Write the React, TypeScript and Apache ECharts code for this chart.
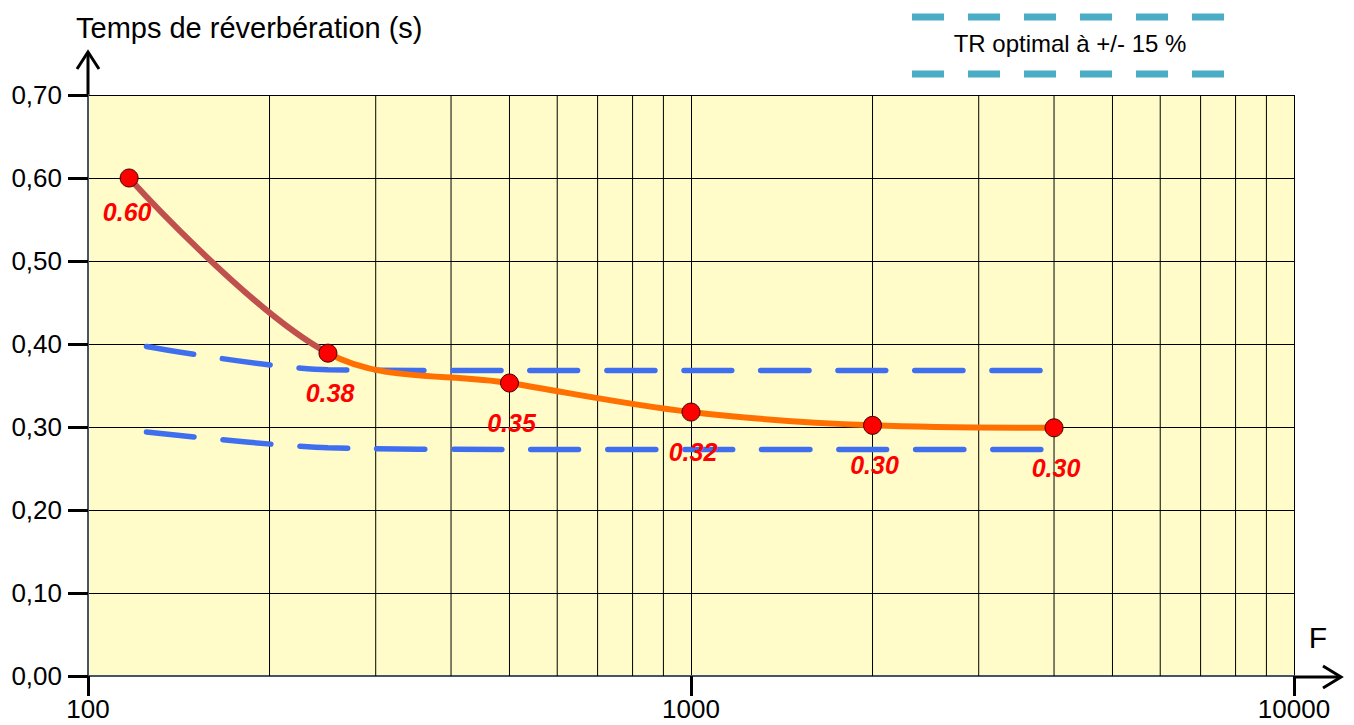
import React, { useEffect, useRef } from "react";
import * as echarts from "echarts";

const FONT = "'Liberation Sans', Arial, sans-serif";

// Measured reverberation time (s) per frequency (Hz)
const freqs = [117, 250, 500, 1000, 2000, 4000];
const trValues = [0.6, 0.389, 0.353, 0.318, 0.302, 0.299];
const trLabels = ["0.60", "0.38", "0.35", "0.32", "0.30", "0.30"];

// Optimal TR +/- 15 % band
const limitFreqs = [125, 250, 500, 1000, 2000, 4000];
const upperLimit = [0.397, 0.369, 0.368, 0.368, 0.368, 0.368];
const lowerLimit = [0.294, 0.275, 0.273, 0.273, 0.273, 0.273];

// Minor vertical grid lines of the log scale
const minorFreqs = [200, 300, 400, 500, 600, 700, 800, 900, 2000, 3000, 4000, 5000, 6000, 7000, 8000, 9000];

const yTickFormat = (v: number) => v.toFixed(2).replace(".", ",");

export default function App() {
  const ref = useRef<HTMLDivElement>(null);

  useEffect(() => {
    if (!ref.current) return;
    const chart = echarts.init(ref.current, null, { renderer: "svg" });

    // colour switch (brown -> orange) at the second measured point, as a fraction of the line's log-x span
    const lg = Math.log10;
    const split = (lg(freqs[1]) - lg(freqs[0])) / (lg(freqs[freqs.length - 1]) - lg(freqs[0]));
    const lineGradient = new echarts.graphic.LinearGradient(0, 0, 1, 0, [
      { offset: 0, color: "#C0504D" },
      { offset: split, color: "#C0504D" },
      { offset: split, color: "#FF7000" },
      { offset: 1, color: "#FF7000" },
    ]);

    const minorGridData: any[] = [];
    minorFreqs.forEach((f) => {
      minorGridData.push([f, 0], [f, 0.7], "-");
    });

    const option: any = {
      animation: false,
      backgroundColor: "#ffffff",
      grid: {
        left: 88,
        right: 60,
        top: 95,
        bottom: 49,
        show: true,
        backgroundColor: "#FFFCC9",
        borderWidth: 0,
      },
      xAxis: {
        type: "log",
        logBase: 10,
        min: 100,
        max: 10000,
        axisLine: { show: true, onZero: false, lineStyle: { color: "#44546A", width: 2 } },
        axisTick: { show: true, length: 20, lineStyle: { color: "#000", width: 3 } },
        axisLabel: {
          fontSize: 26,
          lineHeight: 26,
          color: "#000",
          fontFamily: FONT,
          margin: 20,
          showMinLabel: true,
          showMaxLabel: true,
          formatter: (v: number) => String(Math.round(v)),
        },
        splitLine: { show: true, lineStyle: { color: "#000", width: 1 } },
        minorTick: { show: false },
      },
      yAxis: {
        type: "value",
        min: 0,
        max: 0.7,
        interval: 0.1,
        axisLine: { show: true, lineStyle: { color: "#44546A", width: 2 } },
        axisTick: { show: true, length: 20, lineStyle: { color: "#000", width: 3 } },
        axisLabel: { fontSize: 26, color: "#000", fontFamily: FONT, margin: 26, formatter: yTickFormat },
        splitLine: { show: true, lineStyle: { color: "#000", width: 1 } },
      },
      series: [
        {
          type: "line",
          data: minorGridData,
          symbol: "none",
          connectNulls: false,
          silent: true,
          lineStyle: { color: "#000", width: 1 },
          z: 1,
        },
        {
          type: "line",
          data: limitFreqs.map((f, i) => [f, upperLimit[i]]),
          smooth: 0.3,
          symbol: "none",
          lineStyle: { color: "#3F6FEF", width: 5.5, type: [48, 29], cap: "round" },
          itemStyle: { color: "#3F6FEF" },
          z: 3,
        },
        {
          type: "line",
          data: limitFreqs.map((f, i) => [f, lowerLimit[i]]),
          smooth: 0.3,
          symbol: "none",
          lineStyle: { color: "#3F6FEF", width: 5.5, type: [48, 29], cap: "round" },
          itemStyle: { color: "#3F6FEF" },
          z: 3,
        },
        {
          type: "line",
          data: freqs.map((f, i) => [f, trValues[i]]),
          smooth: 0.35,
          symbol: "none",
          lineStyle: { width: 6, color: lineGradient },
          z: 4,
        },
        {
          type: "scatter",
          data: freqs.map((f, i) => ({
            value: [f, trValues[i]],
            label: i === 0 ? { offset: [-2, 34] } : undefined,
          })),
          symbolSize: 18,
          itemStyle: { color: "#FF0000", borderColor: "#400000", borderWidth: 1, opacity: 1 },
          label: {
            show: true,
            position: "inside",
            offset: [2, 40],
            formatter: (p: any) => trLabels[p.dataIndex],
            fontSize: 25,
            fontWeight: "bold",
            fontStyle: "italic",
            fontFamily: FONT,
            color: "#FF0000",
          },
          z: 6,
        },
      ],
      graphic: [
        {
          type: "text",
          x: 76,
          y: 28,
          style: { text: "Temps de réverbération (s)", fontSize: 29, fontFamily: FONT, fill: "#000", align: "left", verticalAlign: "middle" },
        },
        {
          type: "text",
          x: 1318,
          y: 637,
          style: { text: "F", fontSize: 30, fontFamily: FONT, fill: "#000", align: "center", verticalAlign: "middle" },
        },
        {
          type: "text",
          x: 1070,
          y: 43,
          style: { text: "TR optimal à +/- 15 %", fontSize: 24, fontFamily: FONT, fill: "#000", align: "center", verticalAlign: "middle" },
        },
        {
          type: "line",
          shape: { x1: 912, y1: 17, x2: 1224, y2: 17 },
          style: { stroke: "#4BACC6", lineWidth: 7, lineDash: [32, 24] },
        },
        {
          type: "line",
          shape: { x1: 912, y1: 74, x2: 1224, y2: 74 },
          style: { stroke: "#4BACC6", lineWidth: 7, lineDash: [32, 24] },
        },
        {
          type: "polyline",
          shape: { points: [[88, 95], [88, 52]] },
          style: { stroke: "#000", lineWidth: 3, fill: null },
        },
        {
          type: "polyline",
          shape: { points: [[77, 69], [88, 52], [99, 69]] },
          style: { stroke: "#000", lineWidth: 3, fill: null },
        },
        {
          type: "polyline",
          shape: { points: [[1294, 677], [1341, 677]] },
          style: { stroke: "#000", lineWidth: 3, fill: null },
        },
        {
          type: "polyline",
          shape: { points: [[1323, 666], [1341, 677], [1323, 688]] },
          style: { stroke: "#000", lineWidth: 3, fill: null },
        },
      ],
    };
    chart.setOption(option);
    return () => chart.dispose();
  }, []);

  return (
    <div
      ref={ref}
      style={{ position: "fixed", left: 0, top: 0, width: 1354, height: 725, background: "#fff" }}
    />
  );
}
